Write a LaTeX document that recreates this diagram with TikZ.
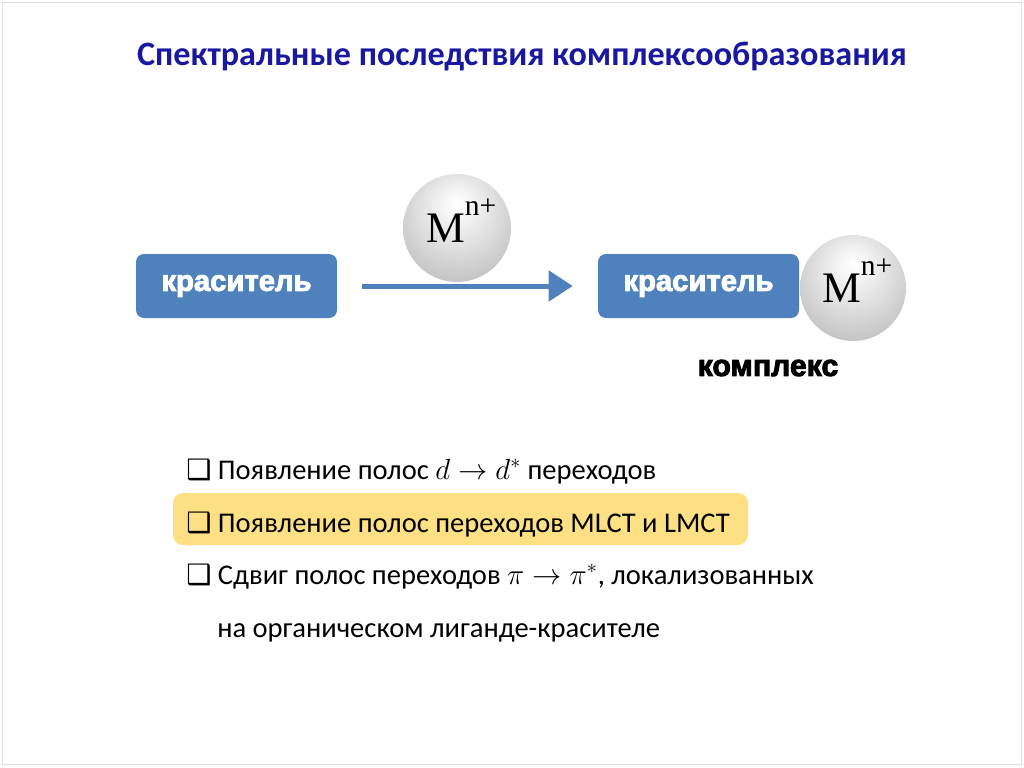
\documentclass[tikz,border=0pt]{standalone}
\usepackage{fontspec}
\setmainfont{Carlito}
\newfontfamily\heavyfont{Liberation Sans}[BoldFeatures={FakeBold=3}]
\newfontfamily\ionfont{Liberation Serif}
\newfontfamily\symfont{DejaVu Sans}
\usepackage{xcolor}
\usepackage{tikz}
\usetikzlibrary{arrows.meta,positioning}

\definecolor{titleblue}{RGB}{24,24,160}
\definecolor{boxblue}{RGB}{79,129,189}
\definecolor{markyellow}{RGB}{253,224,132}

\pgfdeclareradialshading{ionball}{\pgfpoint{0bp}{12bp}}{%
    color(0bp)=(white); color(8bp)=(white!95!black);
    color(30bp)=(white!78!black); color(52bp)=(white!57!black);
    color(66bp)=(white!48!black)}

\newcommand{\metalion}{{\ionfont\fontsize{31}{31}\selectfont
    M\smash{\raisebox{1.35ex}{\fontsize{21}{21}\selectfont n+}}}}
\newcommand{\chk}{{\symfont\fontsize{20}{20}\selectfont ❑}}

\begin{document}
\begin{tikzpicture}[x=0.25mm, y=-0.25mm,
    title/.style={text=titleblue, font=\bfseries\fontsize{24.3}{25}\selectfont},
    dyebox/.style={fill=boxblue, rounded corners=2mm, minimum width=50.25mm,
        minimum height=16mm, text=white,
        font=\heavyfont\bfseries\fontsize{20.8}{21}\selectfont},
    ion/.style={circle, shading=ionball, minimum size=27mm, inner sep=0pt},
    flow/.style={boxblue, line width=1.25mm, -{Triangle[length=6mm,width=7.5mm]}},
    item/.style={anchor=base west, inner sep=0pt, font=\fontsize{20.3}{24}\selectfont}]

        \useasboundingbox (0,0) rectangle (1024,767);
        \draw[gray!25] (2,2) rectangle (1021,764);

        %% ── Заголовок ─────────────────────────────────────────────────────
        \node[title] (title) at (522,56)
            {Спектральные последствия комплексообразования};

        %% ── Краситель + M^{n+} → комплекс ─────────────────────────────────
        \node[dyebox] (dye) at (236.5,286) {краситель};
        \node[dyebox] (cdye) at (698.5,286) {краситель};
        \draw[flow] ([xshift=6.25mm]dye.east) -- ([xshift=-6.25mm]cdye.west);
        \node[ion] (ion) at (457,228) {\hspace*{6pt}\metalion};
        \node[ion, minimum size=26.5mm] (cion) at (853,288) {\hspace*{6pt}\metalion};
        \node[font=\heavyfont\bfseries\fontsize{21.5}{22}\selectfont]
            (cplx) at (768,368) {комплекс};

        %% ── Следствия ─────────────────────────────────────────────────────
        \fill[markyellow, rounded corners=2.5mm] (173,493) rectangle (748,545);
        \node[item] (l1) at (186,479)
            {\chk\ Появление полос $d\rightarrow d^{*}$ переходов};
        \node[item] (l2) at (186,532)
            {\chk\ Появление полос переходов MLCT и LMCT};
        \node[item] (l3) at (186,584)
            {\chk\ Сдвиг полос переходов $\pi\rightarrow\pi^{*}$, локализованных};
        \node[item] (l4) at (217,637)
            {на органическом лиганде-красителе};

\end{tikzpicture}
\end{document}
